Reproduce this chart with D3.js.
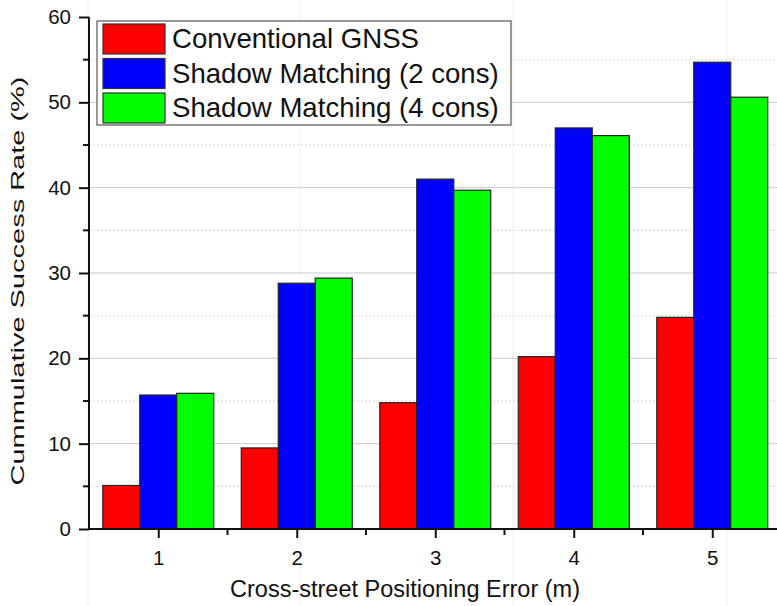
<!DOCTYPE html>
<html><head><meta charset="utf-8">
<script src="https://cdn.jsdelivr.net/npm/d3@7"></script>
<style>body{margin:0;background:#fff}svg{display:block}text{font-family:"Liberation Sans",Arial,sans-serif;fill:#111}</style>
</head><body>
<svg id="c" width="777" height="606"></svg>
<script>
const categories = [1, 2, 3, 4, 5];
const seriesNames = ["Conventional GNSS", "Shadow Matching (2 cons)", "Shadow Matching (4 cons)"];
const seriesColors = ["#ff0000", "#0000ff", "#00ff00"];
const conventional = [5.1, 9.5, 14.8, 20.2, 24.8];
const shadow2 = [15.7, 28.8, 41.0, 47.0, 54.7];
const shadow4 = [15.9, 29.4, 39.7, 46.1, 50.6];
const yTicks = [0, 10, 20, 30, 40, 50, 60];
const yMinorTicks = [5, 15, 25, 35, 45, 55];
const xMinorTicks = [1.5, 2.5, 3.5, 4.5];
const series = [conventional, shadow2, shadow4];

const svg = d3.select("#c");
const x = d3.scaleLinear().domain([0.5, 5.5]).range([89, 781.5]);
const y = d3.scaleLinear().domain([0, 60]).range([529, 17]);
const barW = 0.267;

// faint background vertical lines (page artifacts)
[88, 300, 513, 727].forEach(px => {
  svg.append("line").attr("x1", px).attr("x2", px).attr("y1", 0).attr("y2", 606)
    .attr("stroke", "#eeeeee").attr("stroke-width", 1);
});

// grid
svg.append("g").selectAll("line").data(yTicks.filter(d => d > 0 && d < 60)).join("line")
  .attr("x1", 89).attr("x2", 777).attr("y1", d => y(d)).attr("y2", d => y(d))
  .attr("stroke", "#c8c8c8").attr("stroke-width", 1);
svg.append("g").selectAll("line").data(yMinorTicks).join("line")
  .attr("x1", 89).attr("x2", 777).attr("y1", d => y(d)).attr("y2", d => y(d))
  .attr("stroke", "#d8d8d8").attr("stroke-width", 1).attr("stroke-dasharray", "2,2");

// bars
series.forEach((vals, si) => {
  svg.append("g").selectAll("rect").data(categories).join("rect")
    .attr("x", (d) => x(d + (si - 1.5) * barW))
    .attr("width", x(barW) - x(0))
    .attr("y", (d, i) => y(vals[i]))
    .attr("height", (d, i) => y(0) - y(vals[i]))
    .attr("fill", seriesColors[si])
    .attr("stroke", "#222").attr("stroke-width", 1.2);
});

// y axis
const yAxis = d3.axisLeft(y).tickValues(yTicks).tickSize(10).tickPadding(8).tickFormat(d3.format("d"));
const gy = svg.append("g").attr("transform", "translate(89,0)").call(yAxis);
gy.attr("font-size", null).attr("font-family", null);
gy.select(".domain").attr("stroke", "#111").attr("stroke-width", 2).attr("d", "M0," + y(60) + "V" + (y(0) + 1));
gy.selectAll(".tick line").attr("stroke", "#111").attr("stroke-width", 2);
gy.selectAll(".tick text").style("font-size", "20.5px").attr("fill", "#111");
svg.append("g").selectAll("line").data(yMinorTicks).join("line")
  .attr("x1", 83).attr("x2", 89).attr("y1", d => y(d)).attr("y2", d => y(d))
  .attr("stroke", "#111").attr("stroke-width", 2);

// x axis
const xAxis = d3.axisBottom(x).tickValues(categories).tickSize(9).tickPadding(12).tickFormat(d3.format("d"));
const gx = svg.append("g").attr("transform", "translate(0,529)").call(xAxis);
gx.attr("font-size", null).attr("font-family", null);
gx.select(".domain").attr("stroke", "#111").attr("stroke-width", 2).attr("d", "M88,0H777");
gx.selectAll(".tick line").attr("stroke", "#111").attr("stroke-width", 2);
gx.selectAll(".tick text").style("font-size", "20.5px").attr("fill", "#111");
svg.append("g").selectAll("line").data(xMinorTicks).join("line")
  .attr("x1", d => x(d)).attr("x2", d => x(d)).attr("y1", 529).attr("y2", 535)
  .attr("stroke", "#111").attr("stroke-width", 2);

// axis titles
svg.append("text").attr("x", 405).attr("y", 597).attr("text-anchor", "middle")
  .style("font-size", "23.5px").text("Cross-street Positioning Error (m)");
svg.append("text").attr("transform", "translate(24,281) rotate(-90) scale(1,0.66)").attr("text-anchor", "middle")
  .style("font-size", "29px").attr("fill", "#222").text("Cummulative Success Rate (%)");

// legend
const lg = svg.append("g");
lg.append("rect").attr("x", 97).attr("y", 21).attr("width", 414).attr("height", 104)
  .attr("fill", "#fff").attr("stroke", "#555").attr("stroke-width", 1.2);
seriesNames.forEach((name, i) => {
  const yy = 24 + i * 34.5;
  lg.append("rect").attr("x", 103).attr("y", yy).attr("width", 62).attr("height", 30)
    .attr("fill", seriesColors[i]).attr("stroke", "#333").attr("stroke-width", 1.2);
  lg.append("text").attr("x", 172).attr("y", yy + 24).style("font-size", "27.6px").text(name);
});
</script>
</body></html>
